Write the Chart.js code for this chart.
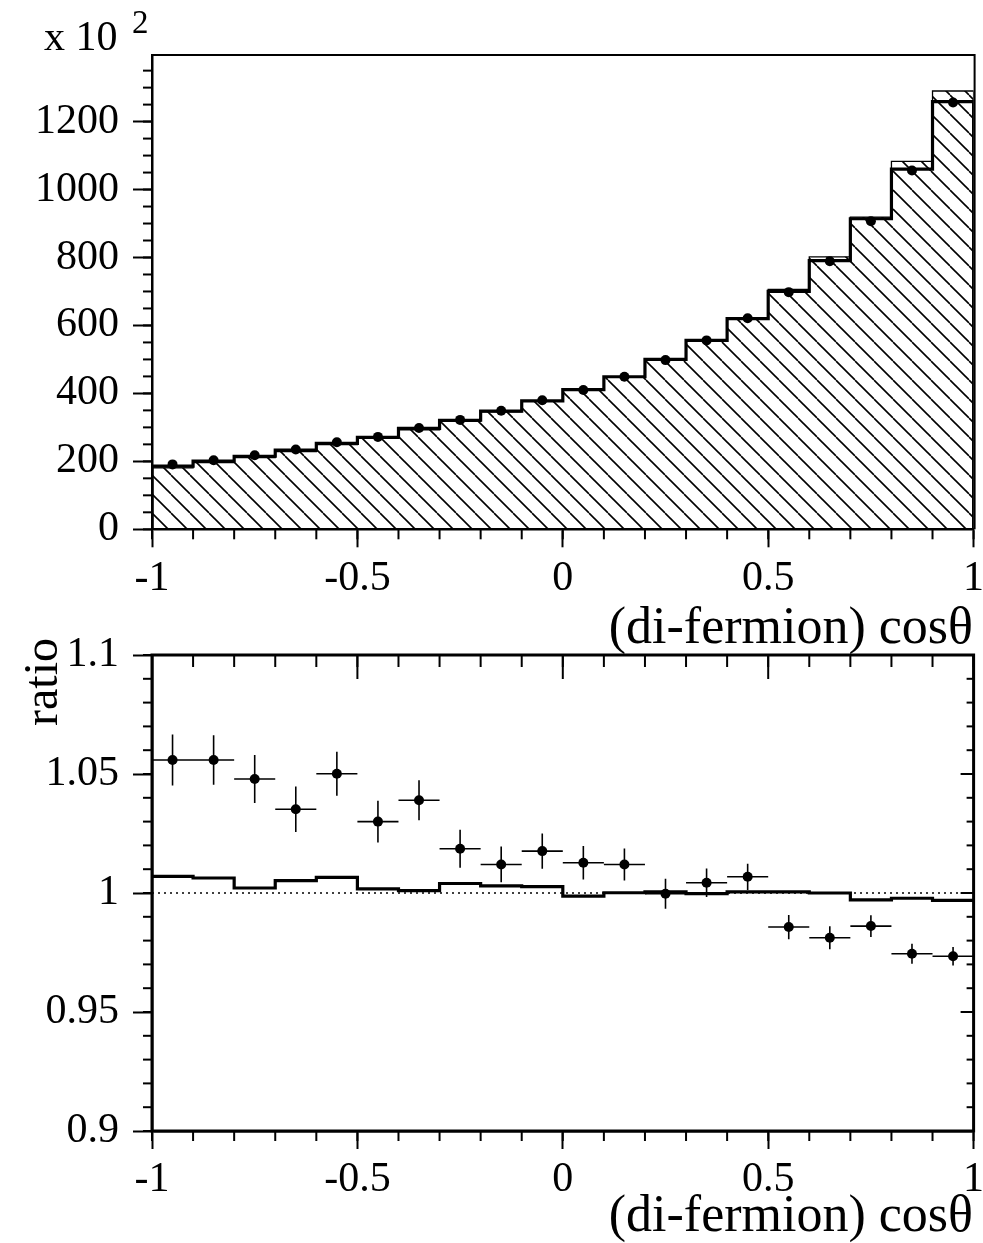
<!DOCTYPE html>
<html>
<head>
<meta charset="utf-8">
<script src="https://cdn.jsdelivr.net/npm/chart.js@4.4.1/dist/chart.umd.min.js"></script>
<style>
  html, body { margin: 0; padding: 0; background: #fff; }
  #wrap { position: relative; width: 983px; height: 1243px; overflow: hidden; }
  canvas { position: absolute; left: 0; }
  #top { top: 0; }
  #bottom { top: 600px; }
</style>
</head>
<body>
<div id="wrap">
  <canvas id="top" width="983" height="660"></canvas>
  <canvas id="bottom" width="983" height="643"></canvas>
</div>
<script>
// bins of (di-fermion) cos theta
const binCenters = [-0.95, -0.85, -0.75, -0.65, -0.55, -0.45, -0.35, -0.25, -0.15, -0.05,
                    0.05, 0.15, 0.25, 0.35, 0.45, 0.55, 0.65, 0.75, 0.85, 0.95];
const binWidth = 0.1;

// top panel, in units of 10^2 events
const dataCounts = [191, 203, 218, 235, 256, 272, 298, 322, 349, 380,
                    410, 449, 498, 556, 621, 698, 789, 907, 1056, 1256];
const mcLine    = [186, 201, 215, 233, 253, 271, 297, 321, 348, 378,
                    411, 449, 500, 556, 620, 700, 791, 914, 1060, 1259];
const mcHatched = [181, 196, 211, 229, 249, 268, 293, 318, 346, 377,
                    411, 449, 500, 557, 621, 706, 802, 919, 1083, 1290];

// bottom panel (ratio)
const ratioData = [1.0559, 1.0559, 1.0479, 1.0352, 1.0501, 1.0300, 1.0390, 1.0186, 1.0120, 1.0176,
                   1.0127, 1.0120, 0.9997, 1.0043, 1.0068, 0.9857, 0.9812, 0.9861, 0.9745, 0.9734];
const ratioErr  = [0.0107, 0.0104, 0.0101, 0.0096, 0.0092, 0.0088, 0.0084, 0.0080, 0.0075, 0.0074,
                   0.0070, 0.0067, 0.0063, 0.0060, 0.0055, 0.0051, 0.0048, 0.0046, 0.0042, 0.0039];
const ratioMc   = [1.0070, 1.0063, 1.0021, 1.0052, 1.0066, 1.0017, 1.0010, 1.0040, 1.0030, 1.0027,
                   0.9987, 1.0001, 1.0005, 0.9997, 1.0005, 1.0005, 1.0000, 0.9971, 0.9978, 0.9969];

const xTicks = [-1, -0.5, 0, 0.5, 1];
const xTickLabels = ['-1', '-0.5', '0', '0.5', '1'];
const yTicksTop = [0, 200, 400, 600, 800, 1000, 1200];
const yTickLabelsTop = ['0', '200', '400', '600', '800', '1000', '1200'];
const yTicksRatio = [0.9, 0.95, 1, 1.05, 1.1];
const yTickLabelsRatio = ['0.9', '0.95', '1', '1.05', '1.1'];

const FONT = '"Liberation Serif", "Times New Roman", serif';

// histogram outline: one point per low bin edge, closed on the last high edge
function stepPoints(vals, drop) {
  const pts = [];
  const lo = binCenters[0] - binWidth / 2;
  const hi = binCenters[binCenters.length - 1] + binWidth / 2;
  if (drop) pts.push({x: lo, y: 0});
  vals.forEach((v, i) => pts.push({x: binCenters[i] - binWidth / 2, y: v}));
  pts.push({x: hi, y: vals[vals.length - 1]});
  if (drop) pts.push({x: hi, y: 0});
  return pts;
}

function hatchPattern() {
  const s = 19;
  const c = document.createElement('canvas');
  c.width = s; c.height = s;
  const g = c.getContext('2d');
  g.strokeStyle = '#000';
  g.lineWidth = 1.6;
  for (const k of [-s, 0, s]) {
    g.beginPath(); g.moveTo(k, 0); g.lineTo(k + s, s); g.stroke();
  }
  return g.createPattern(c, 'repeat');
}

// minor ticks, frame and free text
function drawTicks(ctx, scale, area, step, side, len) {
  const lo = scale.min, hi = scale.max;
  const n = Math.round((hi - lo) / step);
  for (let i = 0; i <= n + 1; i++) {
    const v = Math.ceil(lo / step - 1e-6) * step + i * step;
    if (v > hi + 1e-9) break;
    const p = scale.getPixelForValue(v);
    ctx.beginPath();
    if (side === 'bottom') { ctx.moveTo(p, area.bottom); ctx.lineTo(p, area.bottom + len); }
    if (side === 'top') { ctx.moveTo(p, area.top); ctx.lineTo(p, area.top + len); }
    if (side === 'left') { ctx.moveTo(area.left - len, p); ctx.lineTo(area.left, p); }
    if (side === 'right') { ctx.moveTo(area.right - len, p); ctx.lineTo(area.right, p); }
    ctx.stroke();
  }
}

const decor = {
  id: 'decor',
  afterDraw(chart, args, o) {
    const ctx = chart.ctx, a = chart.chartArea;
    const xs = chart.scales.x, ys = chart.scales.y;
    ctx.save();
    ctx.strokeStyle = '#000';
    ctx.lineWidth = 2;
    drawTicks(ctx, xs, a, 0.1, 'bottom', 10);
    drawTicks(ctx, ys, a, o.yMinor, 'left', 9);
    if (o.fullFrame) {
      drawTicks(ctx, xs, a, 0.1, 'top', 12);
      drawTicks(ctx, xs, a, 0.5, 'top', 24);
      drawTicks(ctx, ys, a, o.yMinor, 'right', 7);
      drawTicks(ctx, ys, a, o.yMajor, 'right', 13);
      ctx.lineWidth = 3;
      ctx.strokeRect(a.left, a.top, a.right - a.left, a.bottom - a.top);
    } else {
      ctx.lineWidth = 2;
      ctx.beginPath();
      ctx.moveTo(a.left, a.top); ctx.lineTo(a.right + 1, a.top); ctx.lineTo(a.right + 1, a.bottom);
      ctx.stroke();
    }
    ctx.fillStyle = '#000';
    ctx.textBaseline = 'alphabetic';
    ctx.font = '52px ' + FONT;
    ctx.textAlign = 'right';
    ctx.fillText('(di-fermion) cos\u03B8', 973, o.titleY);
    if (o.exponent) {
      ctx.textAlign = 'left';
      ctx.font = '42px ' + FONT;
      ctx.fillText('x 10', 44, 50);
      ctx.font = '33px ' + FONT;
      ctx.fillText('2', 132, 33);
    }
    if (o.yTitle) {
      ctx.translate(57, 38);
      ctx.rotate(-Math.PI / 2);
      ctx.font = '48px ' + FONT;
      ctx.textAlign = 'right';
      ctx.fillText(o.yTitle, 0, 0);
    }
    ctx.restore();
  }
};

function xScale(axisHeight) {
  return {
    type: 'linear', min: -1, max: 1,
    afterBuildTicks: s => { s.ticks = xTicks.map(v => ({value: v})); },
    afterFit: s => { s.height = axisHeight; s.paddingLeft = 0; s.paddingRight = 0; },
    ticks: {
      autoSkip: false, maxRotation: 0, padding: 6, color: '#000',
      font: {family: FONT, size: 42},
      callback: (v, i) => xTickLabels[i]
    },
    grid: {drawOnChartArea: false, tickLength: 18, tickWidth: 2, tickColor: '#000'},
    border: {display: true, color: '#000', width: 2.5}
  };
}

function yScale(min, max, ticks, labels) {
  return {
    type: 'linear', min: min, max: max,
    afterBuildTicks: s => { s.ticks = ticks.map(v => ({value: v})); },
    afterFit: s => { s.width = 152; s.paddingTop = 0; s.paddingBottom = 0; },
    ticks: {
      padding: 14, color: '#000',
      font: {family: FONT, size: 42},
      callback: (v, i) => labels[i]
    },
    grid: {drawOnChartArea: false, tickLength: 19, tickWidth: 2, tickColor: '#000'},
    border: {display: true, color: '#000', width: 2.5}
  };
}

Chart.defaults.animation = false;
Chart.defaults.events = [];
Chart.defaults.plugins.legend.display = false;
Chart.defaults.plugins.tooltip.enabled = false;

new Chart(document.getElementById('top'), {
  type: 'line',
  data: {
    datasets: [
      {
        label: 'data',
        data: binCenters.map((c, i) => ({x: c, y: dataCounts[i]})),
        showLine: false, pointRadius: 5, pointBackgroundColor: '#000', pointBorderWidth: 0,
        order: 0
      },
      {
        label: 'MC line',
        data: stepPoints(mcLine, true),
        stepped: 'before', borderColor: '#000', borderWidth: 3.2, pointRadius: 0,
        fill: false, order: 1
      },
      {
        label: 'MC hatched',
        data: stepPoints(mcHatched, true),
        stepped: 'before', borderColor: '#000', borderWidth: 1.3, pointRadius: 0,
        fill: 'origin', backgroundColor: hatchPattern(), order: 2
      }
    ]
  },
  options: {
    responsive: false,
    devicePixelRatio: 1,
    layout: {padding: {top: 55, right: 9.4, left: 0, bottom: 0}},
    scales: {
      x: xScale(660 - 529.3),
      y: yScale(0, 1396, yTicksTop, yTickLabelsTop)
    },
    plugins: {decor: {yMinor: 50, yMajor: 200, fullFrame: false, titleY: 643, exponent: true}}
  },
  plugins: [decor]
});

const errBars = [];
binCenters.forEach((c, i) => {
  errBars.push({x: c - binWidth / 2, y: ratioData[i]}, {x: c + binWidth / 2, y: ratioData[i]}, {x: c, y: null});
  errBars.push({x: c, y: ratioData[i] - ratioErr[i]}, {x: c, y: ratioData[i] + ratioErr[i]}, {x: c, y: null});
});

new Chart(document.getElementById('bottom'), {
  type: 'line',
  data: {
    datasets: [
      {
        label: 'ratio data',
        data: binCenters.map((c, i) => ({x: c, y: ratioData[i]})),
        showLine: false, pointRadius: 5, pointBackgroundColor: '#000', pointBorderWidth: 0,
        order: 0
      },
      {
        label: 'errors',
        data: errBars,
        spanGaps: false, borderColor: '#000', borderWidth: 1.6, pointRadius: 0,
        order: 1
      },
      {
        label: 'ratio MC',
        data: stepPoints(ratioMc, false),
        stepped: 'before', borderColor: '#000', borderWidth: 3.2, pointRadius: 0,
        fill: false, order: 2
      },
      {
        label: 'unity',
        data: [{x: -1, y: 1}, {x: 1, y: 1}],
        borderColor: '#000', borderWidth: 1.5, borderDash: [2, 4], pointRadius: 0,
        order: 3
      }
    ]
  },
  options: {
    responsive: false,
    devicePixelRatio: 1,
    layout: {padding: {top: 55, right: 9.4, left: 0, bottom: 0}},
    scales: {
      x: xScale(643 - 531),
      y: yScale(0.9, 1.1, yTicksRatio, yTickLabelsRatio)
    },
    plugins: {decor: {yMinor: 0.01, yMajor: 0.05, fullFrame: true, titleY: 631, yTitle: 'ratio'}}
  },
  plugins: [decor]
});
</script>
</body>
</html>
